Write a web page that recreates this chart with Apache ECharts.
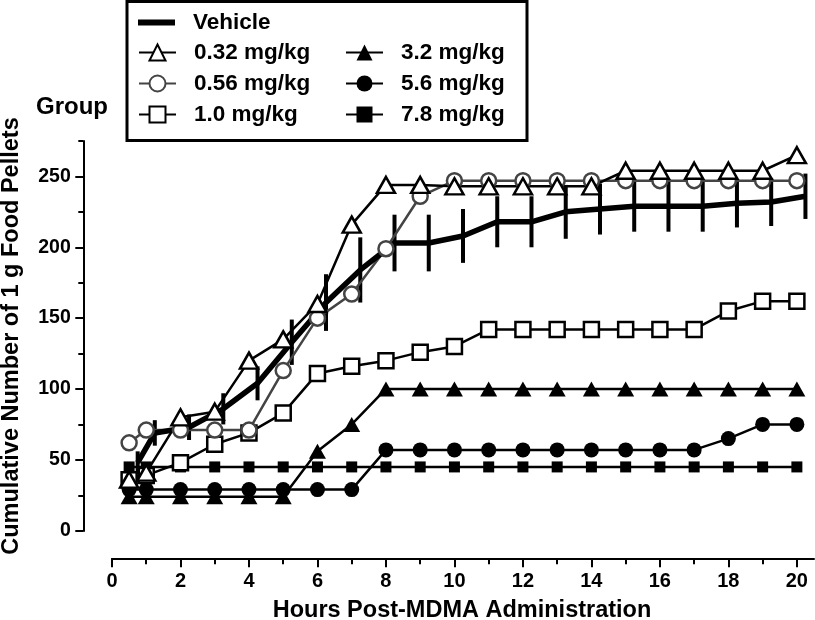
<!DOCTYPE html>
<html>
<head>
<meta charset="utf-8">
<script src="https://cdn.jsdelivr.net/npm/echarts@6/dist/echarts.min.js"></script>
<style>
html,body{margin:0;padding:0;background:#fff;}
#chart{width:815px;height:620px;}
</style>
</head>
<body>
<div id="chart"></div>
<script>
// ---- data ----
const hoursDrug = [0.5, 1, 2, 3, 4, 5, 6, 7, 8, 9, 10, 11, 12, 13, 14, 15, 16, 17, 18, 19, 20];
const hoursVehicle = [0.75, 1.25, 2.25, 3.25, 4.25, 5.25, 6.25, 7.25, 8.25, 9.25, 10.25, 11.25, 12.25, 13.25, 14.25, 15.25, 16.25, 17.25, 18.25, 19.25, 20.25];
const vehicleMean = [48, 69, 73, 86, 104, 133, 161, 184, 203, 203, 208, 218, 218, 225, 227, 229, 229, 229, 231, 232, 236];
const vehicleSem  = [8, 9, 9, 11, 12, 16, 20, 23, 20, 20, 19, 18, 18, 19, 18, 18, 18, 18, 17, 17, 16];
const dose032 = [36, 41, 80, 84, 120, 135, 160, 216, 244, 244, 243, 243, 243, 243, 243, 254, 254, 254, 254, 254, 265];
const dose056 = [62, 71, 71, 71, 71, 113, 150, 167, 199, 236, 247, 247, 247, 247, 247, 247, 247, 247, 247, 247, 247];
const dose10  = [36, 39, 48, 61, 69, 83, 111, 116, 120, 126, 130, 142, 142, 142, 142, 142, 142, 142, 155, 162, 162];
const dose32  = [24, 24, 24, 24, 24, 24, 56, 75, 100, 100, 100, 100, 100, 100, 100, 100, 100, 100, 100, 100, 100];
const dose56  = [29, 29, 29, 29, 29, 29, 29, 29, 57, 57, 57, 57, 57, 57, 57, 57, 57, 57, 65, 75, 75];
const dose78  = [45, 45, 45, 45, 45, 45, 45, 45, 45, 45, 45, 45, 45, 45, 45, 45, 45, 45, 45, 45, 45];
const seriesNames = ['Vehicle', '0.32 mg/kg', '0.56 mg/kg', '1.0 mg/kg', '3.2 mg/kg', '5.6 mg/kg', '7.8 mg/kg'];
const xTickMax = 20, xTickStep = 2, xAxisEnd = 20.5;
const yTickMax = 250, yTickStep = 50, yAxisEnd = 275;
const xTitle = 'Hours Post-MDMA Administration';
const yTitle = 'Cumulative Number of 1 g Food Pellets';
const legendTitle = 'Group';

// ---- build ----
const FONT = "'Liberation Sans', Arial, Helvetica, sans-serif";
const pairs = (xs, ys) => xs.map((x, i) => [x, ys[i]]);
const lineStyleAxis = {color: '#000', width: 2};
const legendText = {color: '#000', fontFamily: FONT, fontWeight: 'bold', fontSize: 22.5, padding: [0, 0, 0, 13]};

function drugSeries(name, ys, symbol, size, fill, stroke, lineColor) {
  return {
    name: name, type: 'line', xAxisIndex: 1, yAxisIndex: 1,
    data: pairs(hoursDrug, ys),
    symbol: symbol, symbolSize: size, showSymbol: true,
    lineStyle: {color: lineColor, width: 2.5},
    itemStyle: {color: fill, borderColor: stroke, borderWidth: fill === '#fff' ? 2.5 : 0},
    emphasis: {disabled: true}
  };
}

const option = {
  animation: false,
  backgroundColor: '#fff',
  grid: [{left: 112, right: 18.2, top: 176.4, bottom: 89.3}, {left: 112, right: 1, top: 141, bottom: 89.3}],
  xAxis: [
    {type: 'value', gridIndex: 0, min: 0, max: xTickMax, interval: xTickStep, position: 'bottom', offset: 28.5,
     axisLine: {show: true, onZero: false, lineStyle: lineStyleAxis},
     axisTick: {show: true, length: 8, lineStyle: lineStyleAxis},
     minorTick: {show: true, splitNumber: 2, length: 5, lineStyle: lineStyleAxis},
     axisLabel: {show: true, color: '#000', fontFamily: FONT, fontWeight: 'bold', fontSize: 20, margin: 12},
     splitLine: {show: false}},
    {type: 'value', gridIndex: 1, min: 0, max: xAxisEnd, position: 'bottom', offset: 28.5,
     axisLine: {show: true, onZero: false, lineStyle: lineStyleAxis},
     axisTick: {show: false}, axisLabel: {show: false}, splitLine: {show: false}}
  ],
  yAxis: [
    {type: 'value', gridIndex: 0, min: 0, max: yTickMax, interval: yTickStep, position: 'left', offset: 28.7,
     axisLine: {show: true, onZero: false, lineStyle: lineStyleAxis},
     axisTick: {show: true, length: 8, lineStyle: lineStyleAxis},
     minorTick: {show: true, splitNumber: 2, length: 5, lineStyle: lineStyleAxis},
     axisLabel: {show: true, color: '#000', fontFamily: FONT, fontWeight: 'bold', fontSize: 19.5, margin: 12.5},
     splitLine: {show: false}},
    {type: 'value', gridIndex: 1, min: 0, max: yAxisEnd, interval: yAxisEnd, position: 'left', offset: 28.7,
     axisLine: {show: true, onZero: false, lineStyle: lineStyleAxis},
     axisTick: {show: true, length: 5, lineStyle: lineStyleAxis},
     axisLabel: {show: false}, splitLine: {show: false}}
  ],
  legend: [
    {data: [{name: seriesNames[0], icon: 'rect'}], left: 138, top: 11, padding: 0, itemWidth: 37, itemHeight: 6,
     textStyle: legendText, selectedMode: false},
    {data: seriesNames.slice(1, 4), orient: 'vertical', left: 138, top: 41, padding: 0, itemWidth: 37, itemHeight: 20, itemGap: 8,
     textStyle: legendText, selectedMode: false},
    {data: seriesNames.slice(4, 7), orient: 'vertical', left: 345, top: 41, padding: 0, itemWidth: 37, itemHeight: 20, itemGap: 8,
     textStyle: legendText, selectedMode: false}
  ],
  graphic: [
    {type: 'rect', shape: {x: 127, y: 1.5, width: 400, height: 139}, style: {fill: 'transparent', stroke: '#000', lineWidth: 3}, z: 100},
    {type: 'text', x: 72, y: 107, style: {text: legendTitle, fontFamily: FONT, fontWeight: 'bold', fontSize: 24, fill: '#000', align: 'center', verticalAlign: 'middle'}},
    {type: 'text', x: 462, y: 611, style: {text: xTitle, fontFamily: FONT, fontWeight: 'bold', fontSize: 23.5, fill: '#000', align: 'center', verticalAlign: 'middle'}},
    {type: 'text', x: 12, y: 336, rotation: Math.PI / 2, style: {text: yTitle, fontFamily: FONT, fontWeight: 'bold', fontSize: 23.5, fill: '#000', align: 'center', verticalAlign: 'middle'}}
  ],
  series: [
    drugSeries(seriesNames[6], dose78, 'rect', 11, '#000', '#000', '#000'),
    drugSeries(seriesNames[4], dose32, 'triangle', [17, 15], '#000', '#000', '#000'),
    drugSeries(seriesNames[5], dose56, 'circle', 15, '#000', '#000', '#000'),
    drugSeries(seriesNames[3], dose10, 'rect', 15, '#fff', '#000', '#000'),
    drugSeries(seriesNames[2], dose056, 'circle', 15, '#fff', '#444', '#444'),
    drugSeries(seriesNames[1], dose032, 'triangle', [18, 16], '#fff', '#000', '#000'),
    {
      name: seriesNames[0], type: 'line', xAxisIndex: 1, yAxisIndex: 1,
      data: pairs(hoursVehicle, vehicleMean),
      symbol: 'none', lineStyle: {color: '#000', width: 5.5}, itemStyle: {color: '#000'},
      emphasis: {disabled: true}
    },
    {
      name: 'Vehicle SEM', type: 'custom', xAxisIndex: 1, yAxisIndex: 1,
      data: hoursVehicle.map((x, i) => [x, vehicleMean[i] - vehicleSem[i], vehicleMean[i] + vehicleSem[i]]),
      renderItem: function (params, api) {
        const lo = api.coord([api.value(0), api.value(1)]);
        const hi = api.coord([api.value(0), api.value(2)]);
        return {type: 'line', shape: {x1: lo[0], y1: lo[1], x2: hi[0], y2: hi[1]}, style: {stroke: '#000', lineWidth: 4}};
      },
      silent: true
    }
  ]
};

const chart = echarts.init(document.getElementById('chart'), null, {renderer: 'canvas'});
chart.setOption(option);
</script>
</body>
</html>
